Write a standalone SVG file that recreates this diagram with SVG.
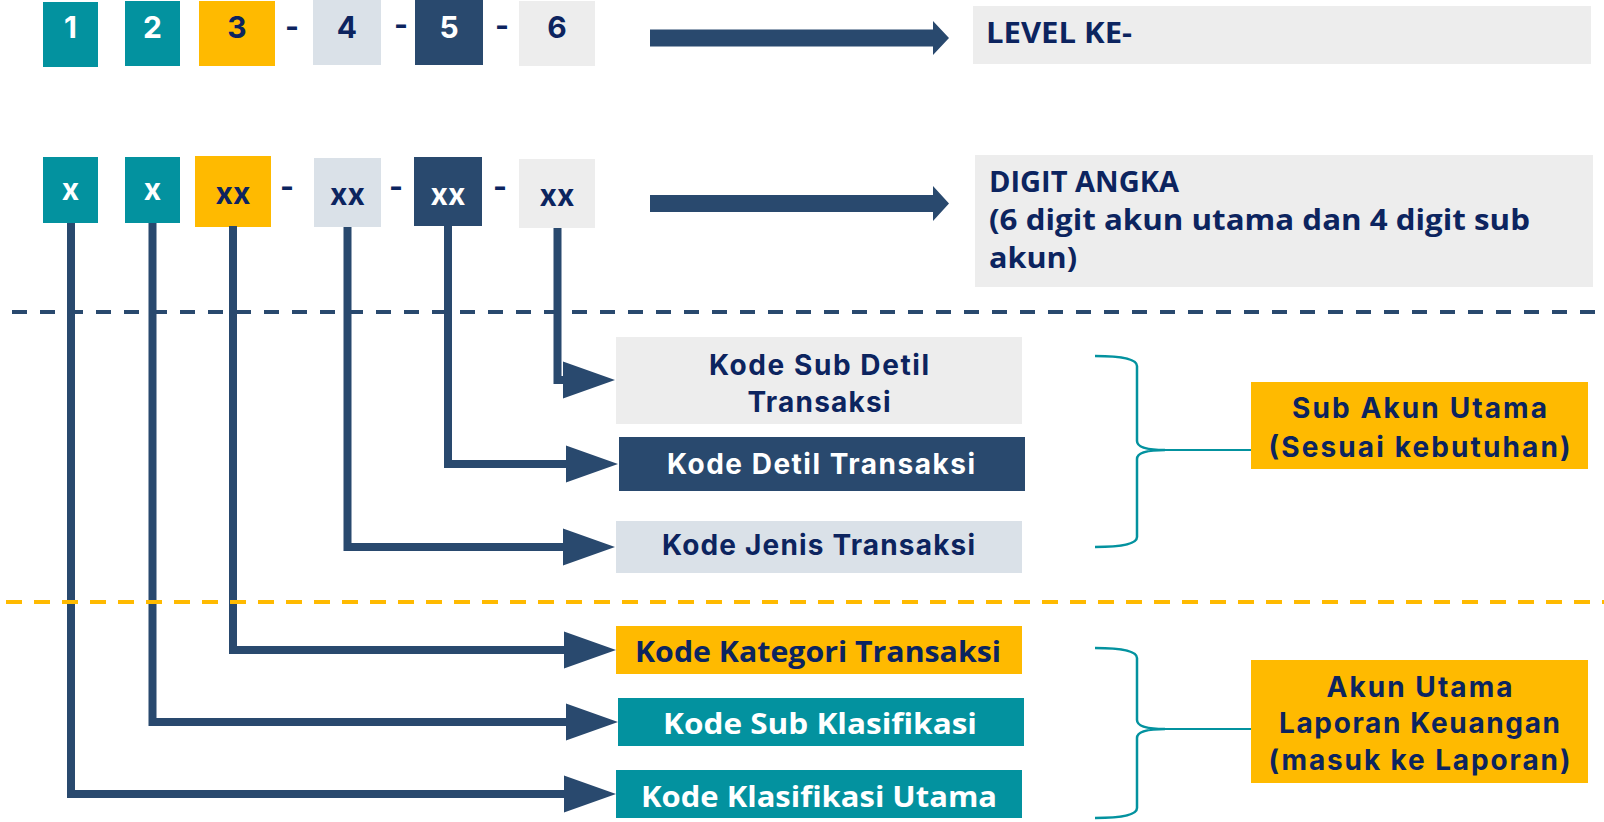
<svg xmlns="http://www.w3.org/2000/svg" width="1604" height="822" viewBox="0 0 1604 822">
  <defs>
    <style>
      .teal{fill:#03929F}
      .gold{fill:#FFBA00}
      .mist{fill:#DAE1E8}
      .navy{fill:#29496E}
      .grey{fill:#EDEDED}
      .num{font-family:Inter,"Noto Sans",sans-serif;font-weight:700;font-size:30px;text-anchor:middle}
      .lbl{font-family:Inter,"Noto Sans",sans-serif;font-weight:700;font-size:28px;text-anchor:middle}
      .cond{font-family:"Open Sans","Noto Sans",sans-serif;font-weight:700;font-size:29px}
      .ink{fill:#0C245F}
      .white{fill:#FFFFFF}
      .conn{fill:none;stroke:#29496E;stroke-width:8;stroke-linejoin:miter}
      .brace{fill:none;stroke:#03929F;stroke-width:2.5}
      .tie{fill:none;stroke:#03929F;stroke-width:2}
    </style>
    <marker id="head" markerUnits="userSpaceOnUse" markerWidth="54" markerHeight="38" refX="0" refY="18.5" orient="auto" overflow="visible">
      <path d="M0,0 L52,18.5 L0,37 z" fill="#29496E"/>
    </marker>
  </defs>

  <rect width="1604" height="822" fill="#FFFFFF"/>

  <!-- level row -->
  <g id="level-1"><rect class="teal" x="43" y="2" width="55" height="65"/><text class="num white" x="70.5" y="38">1</text></g>
  <g id="level-2"><rect class="teal" x="125" y="1" width="55" height="65"/><text class="num white" x="152.5" y="38">2</text></g>
  <g id="level-3"><rect class="gold" x="199" y="1" width="76" height="65"/><text class="num ink" x="237" y="38">3</text></g>
  <text class="num ink" x="292" y="37">-</text>
  <g id="level-4"><rect class="mist" x="313" y="0" width="68" height="65"/><text class="num ink" x="347" y="38">4</text></g>
  <text class="num ink" x="401" y="35">-</text>
  <g id="level-5"><rect class="navy" x="415" y="0" width="68" height="65"/><text class="num white" x="449" y="38">5</text></g>
  <text class="num ink" x="502" y="36">-</text>
  <g id="level-6"><rect class="grey" x="519" y="1" width="76" height="65"/><text class="num ink" x="557" y="38">6</text></g>

  <!-- digit row -->
  <g id="digit-1"><rect class="teal" x="43" y="157" width="55" height="66"/><text class="num white" x="70.5" y="200">x</text></g>
  <g id="digit-2"><rect class="teal" x="125" y="157" width="55" height="66"/><text class="num white" x="152.5" y="200">x</text></g>
  <g id="digit-3"><rect class="gold" x="195" y="156" width="76" height="71"/><text class="num ink" x="233" y="204">xx</text></g>
  <text class="num ink" x="287" y="197">-</text>
  <g id="digit-4"><rect class="mist" x="314" y="158" width="67" height="69"/><text class="num ink" x="347.5" y="205">xx</text></g>
  <text class="num ink" x="396" y="197">-</text>
  <g id="digit-5"><rect class="navy" x="414" y="157" width="68" height="69"/><text class="num white" x="448" y="205">xx</text></g>
  <text class="num ink" x="500" y="197">-</text>
  <g id="digit-6"><rect class="grey" x="519" y="159" width="76" height="69"/><text class="num ink" x="557" y="206">xx</text></g>

  <!-- legend arrows and captions -->
  <g id="arrow-level"><polygon class="navy" points="650,29.5 933,29.5 933,21 949,38 933,55 933,46.5 650,46.5"/></g>
  <g id="arrow-digit"><polygon class="navy" points="650,195 933,195 933,186 949,203.5 933,221 933,212 650,212"/></g>

  <g id="caption-level">
    <rect class="grey" x="973" y="6" width="618" height="58"/>
    <text class="cond ink" x="986" y="43" textLength="146" lengthAdjust="spacingAndGlyphs">LEVEL KE-</text>
  </g>
  <g id="caption-digit">
    <rect class="grey" x="975" y="155" width="618" height="132"/>
    <text class="cond ink" x="989" y="192" textLength="190" lengthAdjust="spacingAndGlyphs">DIGIT ANGKA</text>
    <text class="cond ink" x="989" y="230" textLength="541" lengthAdjust="spacingAndGlyphs">(6 digit akun utama dan 4 digit sub</text>
    <text class="cond ink" x="989" y="268" textLength="88" lengthAdjust="spacingAndGlyphs">akun)</text>
  </g>

  <!-- connectors from each digit group to its meaning -->
  <g id="connectors">
    <polyline class="conn" points="71,223 71,794 564,794" marker-end="url(#head)"/>
    <polyline class="conn" points="152.5,223 152.5,722 566,722" marker-end="url(#head)"/>
    <polyline class="conn" points="233,226 233,650 564,650" marker-end="url(#head)"/>
    <polyline class="conn" points="347.5,227 347.5,547 563,547" marker-end="url(#head)"/>
    <polyline class="conn" points="448,226 448,464 566,464" marker-end="url(#head)"/>
    <polyline class="conn" points="557.5,228 557.5,380 563,380" marker-end="url(#head)"/>
  </g>

  <!-- section separators -->
  <line x1="12" y1="312" x2="1604" y2="312" stroke="#29496E" stroke-width="4" stroke-dasharray="15 13"/>
  <line x1="6" y1="602" x2="1604" y2="602" stroke="#FFBA00" stroke-width="4" stroke-dasharray="16 12"/>

  <!-- code meanings -->
  <g id="kode-sub-detil">
    <rect class="grey" x="616" y="337" width="406" height="87"/>
    <text class="lbl ink" x="819" y="375" textLength="220">Kode Sub Detil</text>
    <text class="lbl ink" x="819" y="412" textLength="143">Transaksi</text>
  </g>
  <g id="kode-detil">
    <rect class="navy" x="619" y="437" width="406" height="54"/>
    <text class="lbl white" x="821" y="474" textLength="308">Kode Detil Transaksi</text>
  </g>
  <g id="kode-jenis">
    <rect class="mist" x="616" y="521" width="406" height="52"/>
    <text class="lbl ink" x="818.5" y="555" textLength="313">Kode Jenis Transaksi</text>
  </g>
  <g id="kode-kategori">
    <rect class="gold" x="616" y="626" width="406" height="48"/>
    <text class="cond ink" x="635" y="662" textLength="366" lengthAdjust="spacingAndGlyphs">Kode Kategori Transaksi</text>
  </g>
  <g id="kode-sub-klasifikasi">
    <rect class="teal" x="618" y="698" width="406" height="48"/>
    <text class="cond white" x="663" y="734" textLength="314" lengthAdjust="spacingAndGlyphs">Kode Sub Klasifikasi</text>
  </g>
  <g id="kode-klasifikasi-utama">
    <rect class="teal" x="616" y="770" width="406" height="48"/>
    <text class="cond white" x="641" y="807" textLength="356" lengthAdjust="spacingAndGlyphs">Kode Klasifikasi Utama</text>
  </g>

  <!-- grouping braces -->
  <g id="brace-sub">
    <path class="brace" d="M1095,356 Q1137,356 1137,366 L1137,441 Q1137,450 1165,450 Q1137,450 1137,459 L1137,537 Q1137,547 1095,547"/>
    <line class="tie" x1="1160" y1="450" x2="1252" y2="450"/>
  </g>
  <g id="brace-utama">
    <path class="brace" d="M1095,648 Q1137,648 1137,658 L1137,720 Q1137,729 1165,729 Q1137,729 1137,738 L1137,808 Q1137,818 1095,818"/>
    <line class="tie" x1="1160" y1="729" x2="1252" y2="729"/>
  </g>

  <g id="sub-akun-utama">
    <rect class="gold" x="1251" y="382" width="337" height="87"/>
    <text class="lbl ink" x="1419.5" y="418" textLength="255">Sub Akun Utama</text>
    <text class="lbl ink" x="1419.5" y="457" textLength="302">(Sesuai kebutuhan)</text>
  </g>
  <g id="akun-utama">
    <rect class="gold" x="1251" y="660" width="337" height="123"/>
    <text class="lbl ink" x="1419.5" y="697" textLength="186">Akun Utama</text>
    <text class="lbl ink" x="1419.5" y="733" textLength="281">Laporan Keuangan</text>
    <text class="lbl ink" x="1419.5" y="770" textLength="302">(masuk ke Laporan)</text>
  </g>
</svg>
